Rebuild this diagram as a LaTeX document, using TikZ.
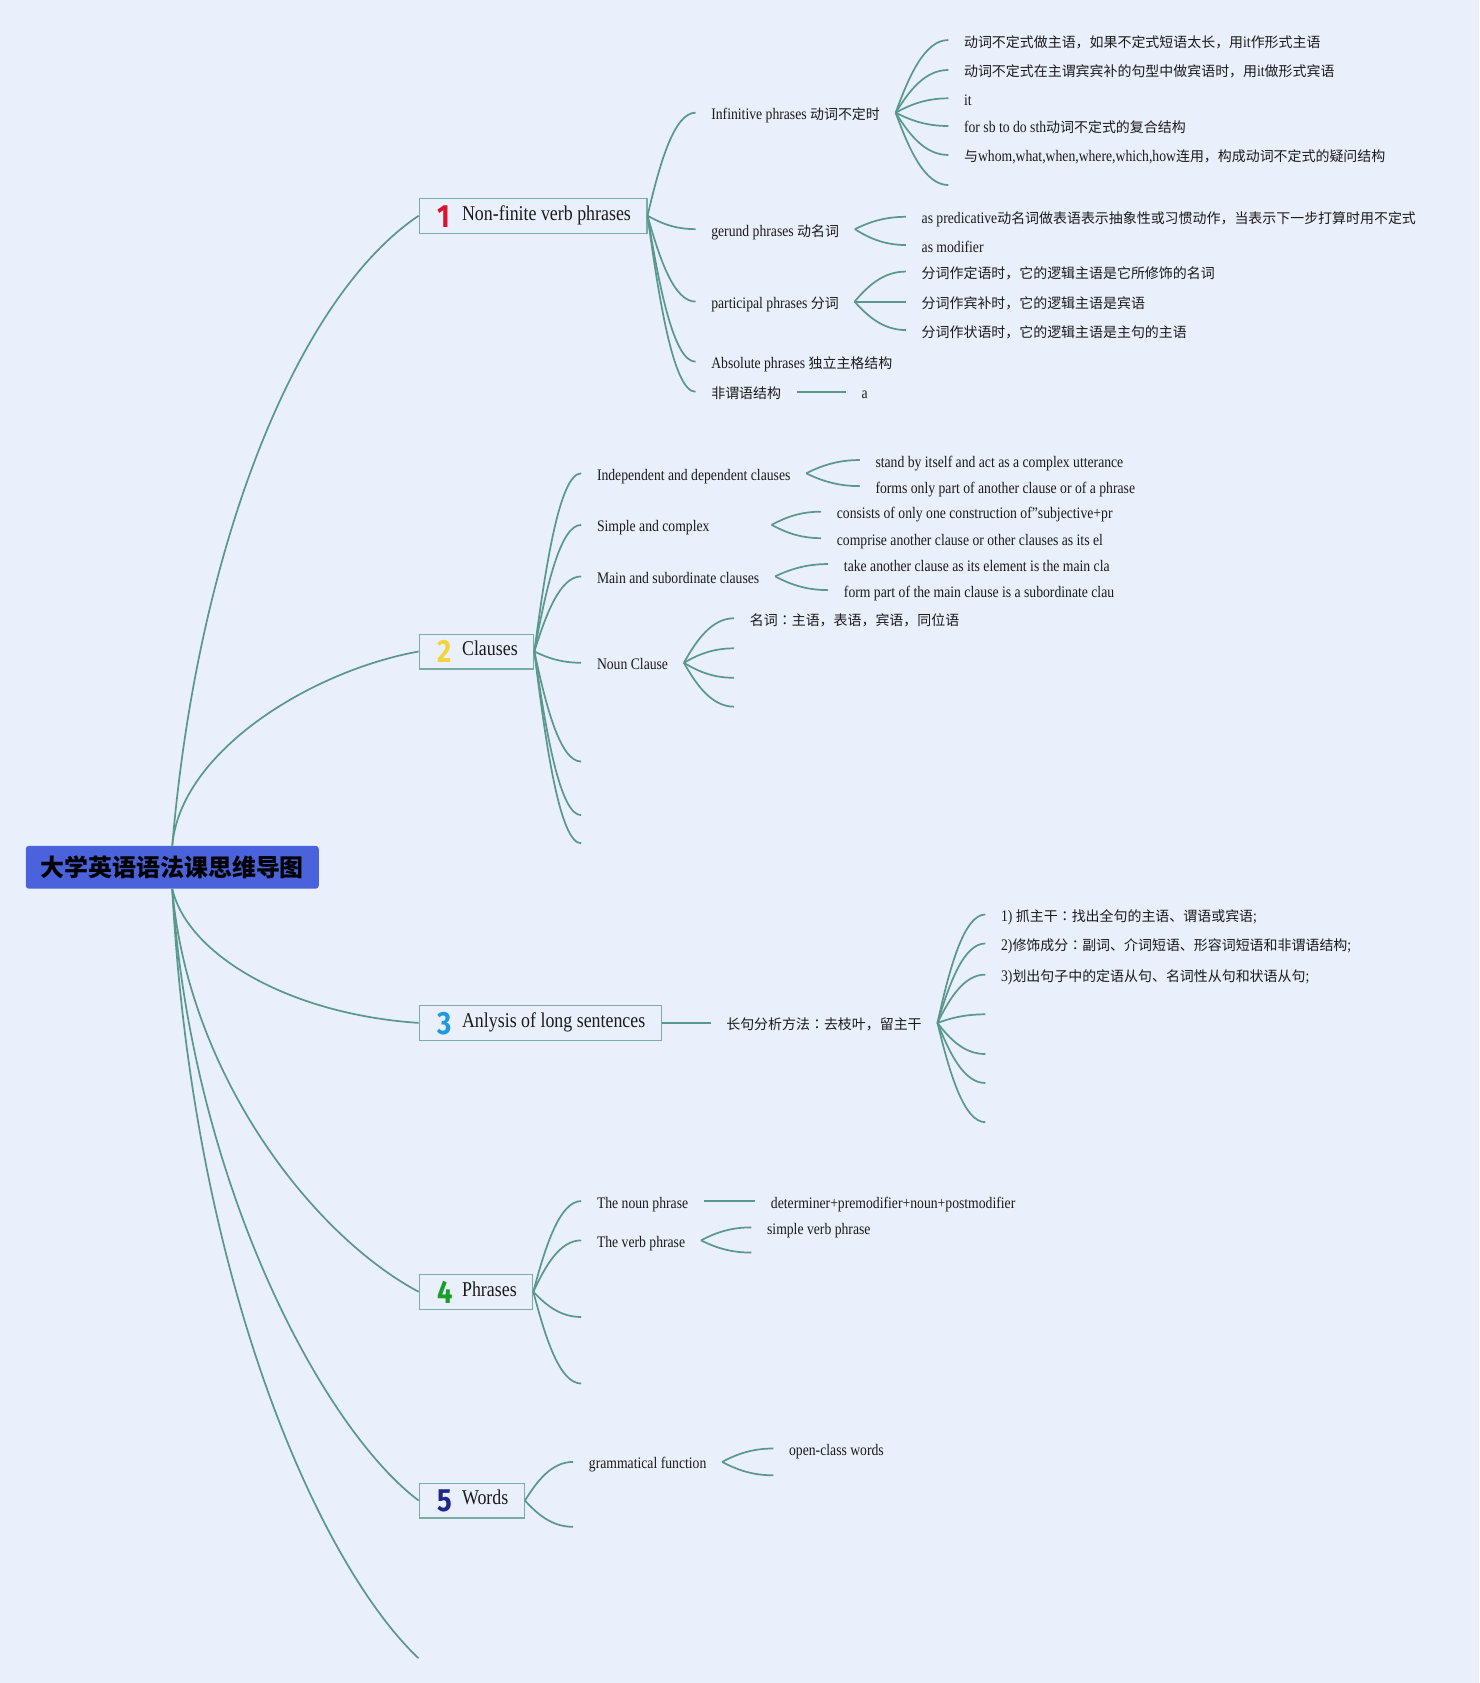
\documentclass[tikz,border=0pt]{standalone}
\usepackage{fontspec}
\setmainfont{Liberation Serif}[FakeStretch=0.85]
\newfontfamily\cjkfont{Noto Sans CJK SC}[Scale=0.8667]
\newfontfamily\cjkjp{Noto Sans CJK JP}[Scale=0.8667]
\newfontfamily\titlefont{Noto Sans CJK SC}
\newfontfamily\numfont{Fira Sans}[FakeStretch=0.85]
\usetikzlibrary{calc}
\definecolor{bg}{HTML}{EAF0FB}
\definecolor{linec}{HTML}{5A988E}
\definecolor{boxc}{HTML}{7AABA5}
\definecolor{titlec}{HTML}{4A62DB}
\definecolor{txt}{HTML}{1A1A1A}
\definecolor{nred}{HTML}{D8142E}
\definecolor{nyellow}{HTML}{F4D43A}
\definecolor{nblue}{HTML}{1E9BE0}
\definecolor{ngreen}{HTML}{1A9E2A}
\definecolor{nnavy}{HTML}{1C2A86}
\newcommand\zh[1]{{\cjkfont #1}}
\newcommand\zhcolon{{\cjkjp ：}}
\newcommand\numico[2]{\makebox[25pt][l]{\hspace*{2pt}\raisebox{-6.5pt}{\numfont\bfseries\fontsize{30}{30}\selectfont\color{#1}#2}}}
\newcommand\fan[2]{\draw[conn] let \p1=(#1), \p2=(#2) in (#1) .. controls ({\x1+0.25*(\x2-\x1)},{\y1+0.5*(\y2-\y1)}) and ({\x2-0.45*(\x2-\x1)},\y2) .. (#2);}
\tikzset{
  conn/.style={draw=linec, line width=1.6pt},
  straight/.style={draw=linec, line width=2pt},
  mainbox/.style={draw=boxc, line width=1pt, fill=bg, anchor=west, inner xsep=15pt, inner ysep=0pt,
    minimum height=32.5pt, text height=8pt, text depth=0pt, font=\fontsize{19.6}{22}\selectfont, text=txt},
  leaf/.style={anchor=west, inner xsep=14.5pt, inner ysep=0pt, text height=13pt, text depth=0pt,
    font=\fontsize{15}{17}\selectfont, text=txt},
  titlebox/.style={fill=titlec, rounded corners=3pt, minimum width=273pt, minimum height=40pt,
    inner sep=0pt, font=\titlefont\bfseries\fontsize{22.3}{24}\selectfont, text=black}
}
\begin{document}
\begin{tikzpicture}[x=1pt,y=-1pt]
\useasboundingbox (0,0) rectangle (1378,1568);
\fill[bg] (0,0) rectangle (1378,1568);

% central
\node[titlebox] (title) at (160.5,808) {大学英语语法课思维导图};

% main boxes
\node[mainbox] (b1) at (390,201) {\numico{nred}{1}Non-finite verb phrases};
\node[mainbox] (b2) at (390,607) {\numico{nyellow}{2}Clauses};
\node[mainbox] (b3) at (390,953) {\numico{nblue}{3}Anlysis of long sentences};
\node[mainbox] (b4) at (390,1203.5) {\numico{ngreen}{4}Phrases};
\node[mainbox] (b5) at (390,1398) {\numico{nnavy}{5}Words};
\coordinate (e6) at (390,1545);

% branch 1
\node[leaf] (inf) at (648,105) {Infinitive phrases \zh{动词不定时}};
\node[leaf] (ger) at (648,213.5) {gerund phrases \zh{动名词}};
\node[leaf] (par) at (648,281) {participal phrases \zh{分词}};
\node[leaf] (abs) at (648,337) {Absolute phrases \zh{独立主格结构}};
\node[leaf] (fwy) at (648,365) {\zh{非谓语结构}};
\node[leaf] (fa) at (788,365) {a};

\node[leaf] (i1) at (883.5,37.3) {\zh{动词不定式做主语，如果不定式短语太长，用}it\zh{作形式主语}};
\node[leaf] (i2) at (883.5,65.2) {\zh{动词不定式在主谓宾宾补的句型中做宾语时，用}it\zh{做形式宾语}};
\node[leaf] (i3) at (883.5,91.6) {it};
\node[leaf] (i4) at (883.5,117.4) {for sb to do sth\zh{动词不定式的复合结构}};
\node[leaf] (i5) at (883.5,144.4) {\zh{与}whom,what,when,where,which,how\zh{连用，构成动词不定式的疑问结构}};
\coordinate (i6) at (883.5,172.4);

\node[leaf] (g1) at (844,202) {as predicative\zh{动名词做表语表示抽象性或习惯动作，当表示下一步打算时用不定式}};
\node[leaf] (g2) at (844,228.3) {as modifier};

\node[leaf] (p1) at (844,253) {\zh{分词作定语时，它的逻辑主语是它所修饰的名词}};
\node[leaf] (p2) at (844,281) {\zh{分词作宾补时，它的逻辑主语是宾语}};
\node[leaf] (p3) at (844,307.5) {\zh{分词作状语时，它的逻辑主语是主句的主语}};

% branch 2
\node[leaf] (ind) at (541.5,441) {Independent and dependent clauses};
\node[leaf] (sim) at (541.5,489) {\makebox[148pt][l]{Simple and complex}};
\node[leaf] (mai) at (541.5,537) {Main and subordinate clauses};
\node[leaf] (nou) at (541.5,617.5) {Noun Clause};
\coordinate (e21) at (541.5,709.5);
\coordinate (e22) at (541.5,759.5);
\coordinate (e23) at (541.5,785.7);

\node[leaf] (ind1) at (801,428.6) {stand by itself and act as a complex utterance};
\node[leaf] (ind2) at (801,452.9) {forms only part of another clause or of a phrase};
\node[leaf] (sim1) at (765,476.7) {consists of only one construction of"subjective+pr};
\node[leaf] (sim2) at (765,501.4) {comprise another clause or other clauses as its el};
\node[leaf] (mai1) at (771.6,525.5) {take another clause as its element is the main cla};
\node[leaf] (mai2) at (771.6,549.8) {form part of the main clause is a subordinate clau};
\node[leaf] (nou1) at (684,576) {\zh{名词}\zhcolon\zh{主语，表语，宾语，同位语}};
\coordinate (nou2) at (684,604);
\coordinate (nou3) at (684,631.5);
\coordinate (nou4) at (684,658.4);

% branch 3
\node[leaf] (cs) at (662,953) {\zh{长句分析方法}\zhcolon\zh{去枝叶，留主干}};
\node[leaf] (s1) at (918,852) {1) \zh{抓主干}\zhcolon\zh{找出全句的主语、谓语或宾语};};
\node[leaf] (s2) at (918,879) {2)\zh{修饰成分}\zhcolon\zh{副词、介词短语、形容词短语和非谓语结构};};
\node[leaf] (s3) at (918,908) {3)\zh{划出句子中的定语从句、名词性从句和状语从句};};
\coordinate (s4) at (918,945);
\coordinate (s5) at (918,982);
\coordinate (s6) at (918,1009);
\coordinate (s7) at (918,1045.5);

% branch 4
\node[leaf] (np) at (541.5,1119) {The noun phrase};
\node[leaf] (dp) at (703.6,1119) {determiner+premodifier+noun+postmodifier};
\node[leaf] (vp) at (541.5,1155.6) {The verb phrase};
\node[leaf] (vp1) at (700,1143.5) {simple verb phrase};
\coordinate (vp2) at (700,1167);
\coordinate (e41) at (541.5,1227);
\coordinate (e42) at (541.5,1289);

% branch 5
\node[leaf] (gf) at (534,1362) {grammatical function};
\node[leaf] (gf1) at (720.5,1349.5) {open-class words};
\coordinate (gf2) at (720.5,1374.5);
\coordinate (e51) at (534,1422.5);

% main connectors
\draw[conn] (title.north) .. controls (185,500) and (280,275) .. (b1.west);
\draw[conn] (title.north) .. controls (168,700) and (290,625) .. (b2.west);
\draw[conn] (title.south) .. controls (175,890) and (270,945) .. (b3.west);
\draw[conn] (title.south) .. controls (175,1000) and (290,1150) .. (b4.west);
\draw[conn] (title.south) .. controls (178,1100) and (300,1330) .. (b5.west);
\draw[conn] (title.south) .. controls (180,1200) and (300,1460) .. (e6);

% fans
\foreach \c in {inf,ger,par,abs,fwy} {\fan{b1.east}{\c.west}}
\draw[straight] (fwy.east) -- (fa.west);
\foreach \c in {i1,i2,i3,i4,i5} {\fan{inf.east}{\c.west}}
\fan{inf.east}{i6}
\foreach \c in {g1,g2} {\fan{ger.east}{\c.west}}
\foreach \c in {p1,p3} {\fan{par.east}{\c.west}}
\draw[straight] (par.east) -- (p2.west);

\foreach \c in {ind,sim,mai,nou} {\fan{b2.east}{\c.west}}
\foreach \c in {e21,e22,e23} {\fan{b2.east}{\c}}
\foreach \c in {ind1,ind2} {\fan{ind.east}{\c.west}}
\foreach \c in {sim1,sim2} {\fan{sim.east}{\c.west}}
\foreach \c in {mai1,mai2} {\fan{mai.east}{\c.west}}
\fan{nou.east}{nou1.west}
\foreach \c in {nou2,nou3,nou4} {\fan{nou.east}{\c}}

\draw[straight] (b3.east) -- (cs.west);
\foreach \c in {s1,s2,s3} {\fan{cs.east}{\c.west}}
\foreach \c in {s4,s5,s6,s7} {\fan{cs.east}{\c}}

\foreach \c in {np,vp} {\fan{b4.east}{\c.west}}
\foreach \c in {e41,e42} {\fan{b4.east}{\c}}
\draw[straight] (np.east) -- (dp.west);
\fan{vp.east}{vp1.west}
\fan{vp.east}{vp2}

\fan{b5.east}{gf.west}
\fan{b5.east}{e51}
\fan{gf.east}{gf1.west}
\fan{gf.east}{gf2}
\end{tikzpicture}
\end{document}
